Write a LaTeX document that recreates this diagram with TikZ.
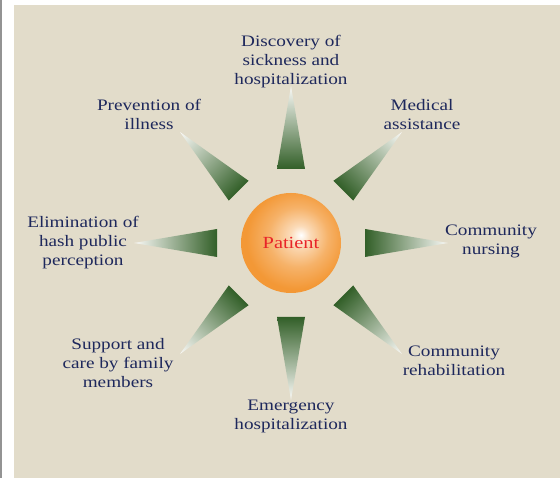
\documentclass[tikz,border=0pt]{standalone}
\usepackage{fontspec}
\setmainfont{Liberation Serif}[FakeStretch=1.2]
\usepackage{tikz}
\definecolor{panel}{RGB}{226,220,202}
\definecolor{spikegreen}{RGB}{50,95,40}
\definecolor{patientorange}{RGB}{243,152,54}
\definecolor{labelblue}{RGB}{30,40,92}
\definecolor{patientred}{RGB}{232,36,40}
\colorlet{glowlight}{patientorange!35!white}
\colorlet{glowmid}{patientorange!75!white}
\colorlet{spiketip}{white!85!panel}

\pgfdeclareradialshading{patientglow}{\pgfpoint{5bp}{4bp}}{%
  color(0bp)=(white); color(5bp)=(glowlight); color(15bp)=(glowmid);
  color(25bp)=(patientorange); color(50bp)=(patientorange)}

\tikzset{
  lbl/.style={text=labelblue, align=center, font=\fontsize{16}{19}\selectfont},
  spike/.style={left color=spikegreen, right color=spiketip}
}

\begin{document}
\begin{tikzpicture}[x=1pt,y=1pt]
  \useasboundingbox (0,0) rectangle (560,478);
  \fill[gray!85] (0,0) rectangle (1.5,478);
  \fill[panel] (14,0) rectangle (560,473);

  \coordinate (patient) at (291,235);

  % spikes round the ball, dark at the base
  \foreach \a in {0,45,...,315}
    \shade[spike, transform canvas={shift={(patient)}, rotate=\a}]
      (74,-14) -- (157,0) -- (74,14) -- cycle;

  \shade[shading=patientglow] (patient) circle (50);
  \node[text=patientred, font=\fontsize{17}{20}\selectfont] (pt) at (patient) {Patient};

  \node[lbl] (discovery)   at (291,416.5) {Discovery of\\sickness and\\hospitalization};
  \node[lbl] (prevention)  at (149,363.5) {Prevention of\\illness};
  \node[lbl] (medical)     at (422,363.5) {Medical\\assistance};
  \node[lbl] (nursing)     at (491,237)   {Community\\nursing};
  \node[lbl] (elimination) at (83,235.5)  {Elimination of\\hash public\\perception};
  \node[lbl] (rehab)       at (454,117)   {Community\\rehabilitation};
  \node[lbl] (support)     at (118,114.5) {Support and\\care by family\\members};
  \node[lbl] (emergency)   at (291,62)    {Emergency\\hospitalization};
\end{tikzpicture}
\end{document}
